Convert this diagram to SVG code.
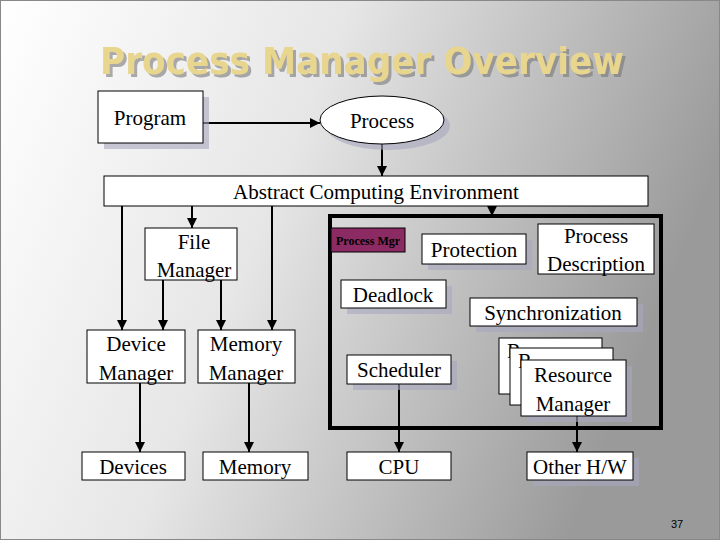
<svg xmlns="http://www.w3.org/2000/svg" width="720" height="540" viewBox="0 0 720 540" font-family="Liberation Serif, Times New Roman, serif">
<defs>
<linearGradient id="bg" x1="0" y1="0" x2="1" y2="0.3">
<stop offset="0" stop-color="#ffffff"/><stop offset="0.45" stop-color="#e6e6e6"/><stop offset="1" stop-color="#9a9a9a"/>
</linearGradient>
<filter id="ts" x="-5%" y="-20%" width="110%" height="150%"><feDropShadow dx="3" dy="3" stdDeviation="0.5" flood-color="#777" flood-opacity="0.6"/></filter>
<marker id="ar" viewBox="0 0 10 10" refX="10" refY="5" markerWidth="5" markerHeight="5" orient="auto"><path d="M0,0L10,5L0,10z" fill="#000"/></marker>
</defs>
<style>
.b{fill:#fff;stroke:#000;stroke-width:1}
.s{fill:#a9a6c0;opacity:0.6}
.t{font-size:21px;fill:#000;text-anchor:middle}
.c{stroke:#000;stroke-width:2;fill:none;marker-end:url(#ar)}
</style>
<rect width="720" height="540" fill="url(#bg)"/>
<rect x="0.5" y="0.5" width="719" height="539" fill="none" stroke="#888"/>
<text x="100" y="74" textLength="524" lengthAdjust="spacingAndGlyphs" font-family="DejaVu Sans, sans-serif" font-weight="bold" font-size="38" fill="#e8d58e" filter="url(#ts)">Process Manager Overview</text>
<g id="connectors">
<line class="c" x1="203" y1="123" x2="320" y2="123"/>
<line class="c" x1="382" y1="144" x2="382" y2="176"/>
<line class="c" x1="122" y1="206" x2="122" y2="330"/>
<line class="c" x1="192" y1="206" x2="192" y2="228"/>
<line class="c" x1="272" y1="206" x2="272" y2="330"/>
<line class="c" x1="492" y1="206" x2="492" y2="216"/>
<line class="c" x1="163" y1="280" x2="163" y2="330"/>
<line class="c" x1="221" y1="280" x2="221" y2="330"/>
<line class="c" x1="140" y1="383" x2="140" y2="452"/>
<line class="c" x1="249" y1="383" x2="249" y2="452"/>
<line class="c" x1="399" y1="384" x2="399" y2="452"/>
<line class="c" x1="577" y1="416" x2="577" y2="452"/>
</g>
<g id="program"><rect class="s" x="104" y="97" width="105" height="52"/><rect class="b" x="98" y="91" width="105" height="52"/><text class="t" x="150" y="125">Program</text></g>
<g id="process"><ellipse class="s" cx="388" cy="126" rx="62" ry="24"/><ellipse class="b" cx="382" cy="120" rx="62" ry="24"/><text class="t" x="382" y="128">Process</text></g>
<g id="ace"><rect class="b" x="104" y="176" width="544" height="30"/><text class="t" x="376" y="199" font-size="22">Abstract Computing Environment</text></g>
<g id="file-manager"><rect class="b" x="145" y="228" width="92" height="52"/><text class="t" x="194" y="249">File</text><text class="t" x="194" y="277">Manager</text></g>
<g id="device-manager"><rect class="b" x="87" y="330" width="98" height="53"/><text class="t" x="136" y="351">Device</text><text class="t" x="136" y="380">Manager</text></g>
<g id="memory-manager"><rect class="b" x="198" y="330" width="97" height="53"/><text class="t" x="246" y="351">Memory</text><text class="t" x="246" y="380">Manager</text></g>
<g id="devices"><rect class="b" x="82" y="452" width="103" height="28"/><text class="t" x="133" y="474">Devices</text></g>
<g id="memory"><rect class="b" x="203" y="452" width="105" height="28"/><text class="t" x="255" y="474">Memory</text></g>
<g id="process-mgr">
<rect x="330" y="216" width="331" height="212" fill="none" stroke="#000" stroke-width="4"/>
<rect x="331" y="228" width="74" height="24" fill="#8b2a63" stroke="#000"/>
<text x="368" y="245" font-weight="bold" font-size="12" text-anchor="middle" fill="#000">Process Mgr</text>
</g>
<g id="protection"><rect class="s" x="428" y="240" width="104" height="30"/><rect class="b" x="422" y="234" width="104" height="30"/><text class="t" x="474" y="257">Protection</text></g>
<g id="process-description"><rect class="b" x="538" y="224" width="116" height="50"/><text class="t" x="596" y="243">Process</text><text class="t" x="596" y="271">Description</text></g>
<g id="deadlock"><rect class="s" x="347" y="286" width="105" height="28"/><rect class="b" x="341" y="280" width="105" height="28"/><text class="t" x="393" y="302">Deadlock</text></g>
<g id="synchronization"><rect class="s" x="476" y="304" width="167" height="28"/><rect class="b" x="470" y="298" width="167" height="28"/><text class="t" x="553" y="320">Synchronization</text></g>
<g id="scheduler"><rect class="s" x="353" y="361" width="104" height="29"/><rect class="b" x="347" y="355" width="104" height="29"/><text class="t" x="399" y="377">Scheduler</text></g>
<g id="resource-manager">
<rect class="b" x="499" y="338" width="103" height="56"/><text class="t" x="514" y="358">R</text>
<rect class="b" x="510" y="348" width="103" height="57"/><text class="t" x="525" y="368">R</text>
<rect class="s" x="527" y="366" width="105" height="56"/>
<rect class="b" x="521" y="360" width="105" height="56"/><text class="t" x="573" y="382">Resource</text><text class="t" x="573" y="411">Manager</text>
</g>
<g id="cpu"><rect class="b" x="347" y="452" width="104" height="28"/><text class="t" x="399" y="474">CPU</text></g>
<g id="other-hw"><rect class="s" x="533" y="458" width="106" height="28"/><rect class="b" x="527" y="452" width="106" height="28"/><text class="t" x="580" y="474">Other H/W</text></g>
<text x="677" y="528" font-family="Liberation Sans, sans-serif" font-size="11" text-anchor="middle" fill="#000">37</text>
</svg>
